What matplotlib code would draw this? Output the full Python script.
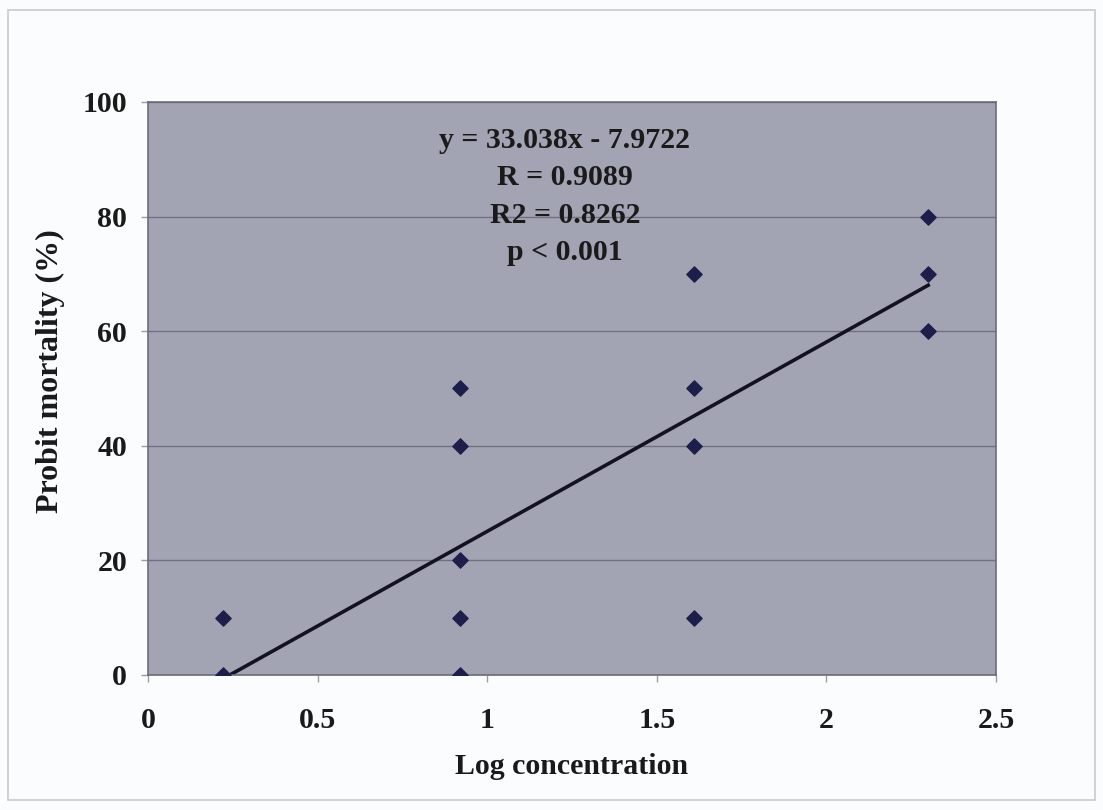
import matplotlib
matplotlib.use("Agg")
from matplotlib import pyplot as plt
from matplotlib.patches import Rectangle

# log concentration and probit mortality (%) for each replicate
log_conc = [0.22, 0.22,
            0.92, 0.92, 0.92, 0.92, 0.92,
            1.61, 1.61, 1.61, 1.61,
            2.30, 2.30, 2.30]
mortality = [10, 0,
             50, 40, 20, 10, 0,
             70, 50, 40, 10,
             80, 70, 60]

# fitted regression line and stats
slope = 33.038
intercept = -7.9722
r_value = 0.9089
r2_value = 0.8262
p_text = "p < 0.001"

x_ticks = [0, 0.5, 1, 1.5, 2, 2.5]
y_ticks = [0, 20, 40, 60, 80, 100]

plt.rcParams['font.family'] = ['Liberation Serif', 'DejaVu Serif']
plt.rcParams['font.weight'] = 'bold'

fs = 21.5

fig = plt.figure(figsize=(11.03, 8.1), dpi=100)
fig.patch.set_facecolor('#fbfcfd')
fig.patches.append(Rectangle((0.007, 0.012), 0.986, 0.976, transform=fig.transFigure,
                             fill=False, edgecolor='#c8cacc', linewidth=1.2))

ax = fig.add_axes([0.1342, 0.1667, 0.7688, 0.7074])
ax.set_facecolor('#a2a3b3')

ax.scatter(log_conc, mortality, marker='D', s=60, color='#1d1f4a', zorder=3)

x_line = [min(log_conc), max(log_conc)]
y_line = [slope * x + intercept for x in x_line]
ax.plot(x_line, y_line, color='#121222', linewidth=2.6, zorder=2)

ax.set_xlim(0, 2.5)
ax.set_ylim(0, 100)
ax.set_xticks(x_ticks)
ax.set_xticklabels(['0', '0.5', '1', '1.5', '2', '2.5'])
ax.set_yticks(y_ticks)
ax.yaxis.grid(True, color='#6f7180', linewidth=1.0)
ax.set_axisbelow(True)

for side in ['left', 'bottom', 'top', 'right']:
    ax.spines[side].set_color('#6a6c78')
    ax.spines[side].set_linewidth(1.2)

ax.tick_params(axis='both', direction='out', length=5, width=1, color='#9a9ca6',
               labelsize=fs, labelcolor='#1a1a1a')
ax.tick_params(axis='y', pad=10)
ax.tick_params(axis='x', pad=18)

ax.set_xlabel('Log concentration', fontsize=fs, fontweight='bold', color='#1a1a1a', labelpad=14)
ax.set_ylabel('Probit mortality (%)', fontsize=23, fontweight='bold', color='#1a1a1a')
ax.yaxis.set_label_coords(-0.098, 0.53)

stats = "y = %.3fx - %.4f\nR = %.4f\nR2 = %.4f\n%s" % (slope, -intercept, r_value, r2_value, p_text)
ax.text(1.229, 95.7, stats, ha='center', va='top', fontsize=fs, fontweight='bold',
        color='#1a1a1a', linespacing=1.5)

fig.savefig('out.png', dpi=100, facecolor=fig.get_facecolor())
